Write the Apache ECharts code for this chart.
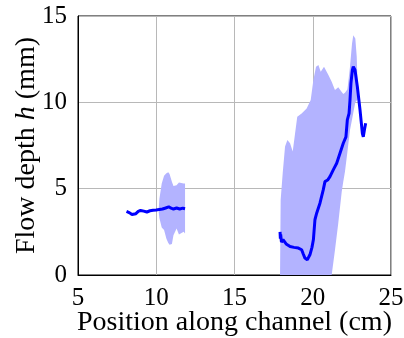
<!DOCTYPE html>
<html>
<head>
<meta charset="utf-8">
<script src="https://cdn.jsdelivr.net/npm/echarts@6/dist/echarts.min.js"></script>
<style>
  html, body { margin: 0; padding: 0; background: #fff; }
  #chart { width: 404px; height: 338px; }
</style>
</head>
<body>
<div id="chart"></div>
<script>
// Measured flow depth h (mm) versus position along the channel (cm)
const upstreamX = [8.1, 8.3, 8.45, 8.55, 8.7, 8.85, 9.0, 9.2, 9.4, 9.6, 9.8, 10.0, 10.2, 10.4, 10.6, 10.8, 10.95, 11.1, 11.3, 11.5, 11.7, 11.84];
const upstreamH = [3.68, 3.6, 3.5, 3.43, 3.55, 3.68, 3.74, 3.7, 3.65, 3.72, 3.75, 3.76, 3.8, 3.82, 3.88, 3.95, 3.87, 3.82, 3.88, 3.82, 3.87, 3.84];

const downstreamX = [17.91, 17.93, 17.95, 18.0, 18.1, 18.3, 18.55, 18.8, 19.08, 19.29, 19.4, 19.5, 19.65, 19.82, 19.95, 20.04, 20.14, 20.25, 20.46, 20.67, 20.78, 20.95, 21.1, 21.31, 21.53, 21.74, 21.95, 22.12, 22.21, 22.32, 22.38, 22.44, 22.53, 22.59, 22.7, 22.85, 23.02, 23.17, 23.23, 23.3, 23.38];
const downstreamH = [2.5, 2.1, 2.35, 1.9, 2.05, 1.8, 1.65, 1.6, 1.56, 1.46, 1.2, 0.98, 0.88, 1.17, 1.6, 2.04, 3.2, 3.58, 4.16, 4.93, 5.41, 5.5, 5.7, 6.09, 6.47, 7.05, 7.63, 8.0, 8.98, 9.36, 10.13, 11.1, 11.87, 12.06, 11.87, 10.9, 9.56, 8.2, 8.0, 8.4, 8.79];

// Spread of the measurements: upper and lower envelopes
const upstreamBandX = [10.15, 10.2, 10.35, 10.5, 10.65, 10.77, 10.85, 11.0, 11.1, 11.3, 11.45, 11.75, 11.84];
const upstreamBandHigh = [3.7, 4.4, 5.3, 5.75, 5.9, 5.95, 5.85, 5.4, 5.15, 5.2, 5.35, 5.3, 5.3];
const upstreamBandLow = [3.7, 3.3, 2.75, 2.6, 2.1, 1.85, 1.75, 1.8, 2.3, 2.7, 2.35, 2.5, 2.4];

const downstreamBandX = [17.91, 17.95, 18.08, 18.23, 18.38, 18.55, 18.72, 18.87, 19.01, 19.29, 19.61, 19.87, 20.04, 20.21, 20.36, 20.51, 20.72, 21.0, 21.21, 21.42, 21.63, 21.85, 21.95, 22.06, 22.21, 22.25, 22.38, 22.51, 22.59, 22.72, 22.81, 22.85];
const downstreamBandHigh = [0, 4.35, 5.9, 7.44, 7.82, 7.63, 7.15, 8.2, 9.17, 9.36, 9.65, 10.13, 11.3, 12.06, 12.16, 11.77, 12.06, 11.58, 11.19, 10.71, 10.87, 10.6, 10.48, 10.55, 10.75, 11.0, 12.06, 13.41, 13.89, 13.7, 12.64, 11.48];
const downstreamBandLow = [0, 0, 0, 0, 0, 0, 0, 0, 0, 0, 0, 0, 0, 0, 0, 0, 0, 0, 0, 1.45, 3.0, 4.8, 5.4, 6.0, 7.1, 7.4, 8.4, 9.0, 9.4, 10.0, 10.1, 10.13];

const xTicks = [5, 10, 15, 20, 25];
const yTicks = [0, 5, 10, 15];

const FONT = 'Liberation Serif';
const bands = [
  { x: upstreamBandX, hi: upstreamBandHigh, lo: upstreamBandLow },
  { x: downstreamBandX, hi: downstreamBandHigh, lo: downstreamBandLow }
];

// Closed envelope polygon: upper edge left to right, lower edge back
function bandPolygon(params, api) {
  const b = bands[params.dataIndex];
  const pts = [];
  for (let i = 0; i < b.x.length; i++) pts.push(api.coord([b.x[i], b.hi[i]]));
  for (let i = b.x.length - 1; i >= 0; i--) pts.push(api.coord([b.x[i], b.lo[i]]));
  return {
    type: 'polygon',
    shape: { points: pts },
    style: { fill: 'rgb(179,179,255)', stroke: null }
  };
}

const chart = echarts.init(document.getElementById('chart'), null, { renderer: 'canvas' });
chart.setOption({
  animation: false,
  backgroundColor: '#fff',
  grid: {
    left: 78, right: 13, top: 16, bottom: 63,
    containLabel: false, outerBoundsMode: 'none',
    show: true, borderColor: '#000', borderWidth: 1, backgroundColor: 'transparent'
  },
  xAxis: {
    type: 'value', min: xTicks[0], max: xTicks[xTicks.length - 1], interval: 5,
    name: 'Position along channel (cm)', nameLocation: 'middle', nameGap: 34, nameMoveOverlap: false,
    nameTextStyle: { fontFamily: FONT, fontSize: 28, color: '#000' },
    axisLine: { show: true, onZero: false, lineStyle: { color: '#000', width: 1 } },
    axisTick: { show: false },
    axisLabel: { fontFamily: FONT, fontSize: 25, color: '#000', margin: 11 },
    splitLine: { show: true, lineStyle: { color: '#b8b8b8', width: 1 } }
  },
  yAxis: {
    type: 'value', min: yTicks[0], max: yTicks[yTicks.length - 1], interval: 5,
    name: '{n|Flow depth }{i|h}{n| (mm)}', nameLocation: 'middle', nameGap: 37, nameMoveOverlap: false,
    nameTextStyle: {
      fontFamily: FONT, fontSize: 28, color: '#000',
      rich: {
        n: { fontFamily: FONT, fontSize: 28, color: '#000' },
        i: { fontFamily: FONT, fontSize: 28, color: '#000', fontStyle: 'italic' }
      }
    },
    axisLine: { show: true, lineStyle: { color: '#000', width: 1 } },
    axisTick: { show: false },
    axisLabel: { fontFamily: FONT, fontSize: 25, color: '#000', margin: 11 },
    splitLine: { show: true, lineStyle: { color: '#b8b8b8', width: 1 } }
  },
  series: [
    {
      type: 'custom', name: 'spread', z: 1,
      renderItem: bandPolygon,
      encode: { x: 0, y: 1 },
      data: [[upstreamBandX[0], upstreamBandHigh[0]], [downstreamBandX[0], downstreamBandHigh[0]]]
    },
    {
      type: 'line', name: 'upstream', z: 3,
      data: upstreamX.map((x, i) => [x, upstreamH[i]]),
      showSymbol: false, lineStyle: { color: '#0000ff', width: 3 }
    },
    {
      type: 'line', name: 'downstream', z: 3,
      data: downstreamX.map((x, i) => [x, downstreamH[i]]),
      showSymbol: false, lineStyle: { color: '#0000ff', width: 3 }
    }
  ]
});
</script>
</body>
</html>
